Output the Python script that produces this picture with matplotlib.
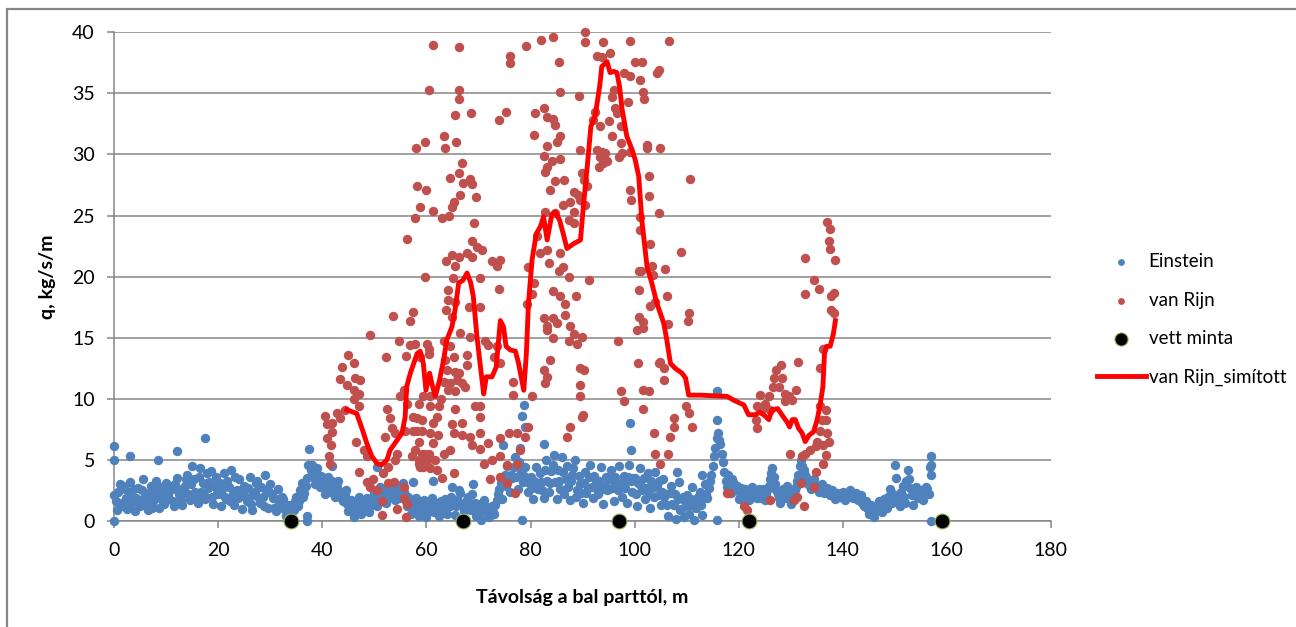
import matplotlib.pyplot as plt
import matplotlib.patches as patches

# Einstein, sampled band (x in m, q in kg/s/m)
ein_x = [
    0.0, 0.5, 1.0, 1.5, 2.0, 2.5, 3.0, 3.5, 4.0, 4.5,
    5.0, 5.5, 6.0, 6.5, 7.0, 7.5, 8.0, 8.5, 9.0, 9.5,
    10.0, 10.5, 11.0, 11.5, 12.0, 12.5, 13.0, 13.5, 14.0, 14.5,
    15.0, 15.5, 16.0, 16.5, 17.0, 17.5, 18.0, 18.5, 19.0, 19.5,
    20.0, 20.5, 21.0, 21.5, 22.0, 22.5, 23.0, 23.5, 24.0, 24.5,
    25.0, 25.5, 26.0, 26.5, 27.0, 27.5, 28.0, 28.5, 29.0, 29.5,
    30.0, 30.5, 31.0, 31.5, 32.0, 32.5, 33.0, 33.5, 34.0, 34.5,
    35.0, 35.5, 36.0, 36.5, 37.0, 37.5, 38.0, 38.5, 39.0, 39.5,
    40.0, 40.5, 41.0, 41.5, 42.0, 42.5, 43.0, 43.5, 44.0, 44.5,
    45.0, 45.5, 46.0, 46.5, 47.0, 47.5, 48.0, 48.5, 49.0, 49.5,
    50.0, 50.5, 51.0, 51.5, 52.0, 52.5, 53.0, 53.5, 54.0, 54.5,
    55.0, 55.5, 56.0, 56.5, 57.0, 57.5, 58.0, 58.5, 59.0, 59.5,
    60.0, 60.5, 61.0, 61.5, 62.0, 62.5, 63.0, 63.5, 64.0, 64.5,
    65.0, 65.5, 66.0, 66.5, 67.0, 67.5, 68.0, 68.5, 69.0, 69.5,
    70.0, 70.5, 71.0, 71.5, 72.0, 72.5, 73.0, 73.5, 74.0, 74.5,
    75.0, 75.5, 76.0, 76.5, 77.0, 77.5, 78.0, 78.5, 79.0, 79.5,
    80.0, 80.5, 81.0, 81.5, 82.0, 82.5, 83.0, 83.5, 84.0, 84.5,
    85.0, 85.5, 86.0, 86.5, 87.0, 87.5, 88.0, 88.5, 89.0, 89.5,
    90.0, 90.5, 91.0, 91.5, 92.0, 92.5, 93.0, 93.5, 94.0, 94.5,
    95.0, 95.5, 96.0, 96.5, 97.0, 97.5, 98.0, 98.5, 99.0, 99.5,
    100.0, 100.5, 101.0, 101.5, 102.0, 102.5, 103.0, 103.5, 104.0, 104.5,
    105.0, 105.5, 106.0, 106.5, 107.0, 107.5, 108.0, 108.5, 109.0, 109.5,
    110.0, 110.5, 111.0, 111.5, 112.0, 112.5, 113.0, 113.5, 114.0, 114.5,
    115.0, 115.5, 116.0, 116.5, 117.0, 117.5, 118.0, 118.5, 119.0, 119.5,
    120.0, 120.5, 121.0, 121.5, 122.0, 122.5, 123.0, 123.5, 124.0, 124.5,
    125.0, 125.5, 126.0, 126.5, 127.0, 127.5, 128.0, 128.5, 129.0, 129.5,
    130.0, 130.5, 131.0, 131.5, 132.0, 132.5, 133.0, 133.5, 134.0, 134.5,
    135.0, 135.5, 136.0, 136.5, 137.0, 137.5, 138.0, 138.5, 139.0, 139.5,
    140.0, 140.5, 141.0, 141.5, 142.0, 142.5, 143.0, 143.5, 144.0, 144.5,
    145.0, 145.5, 146.0, 146.5, 147.0, 147.5, 148.0, 148.5, 149.0, 149.5,
    150.0, 150.5, 151.0, 151.5, 152.0, 152.5, 153.0, 153.5, 154.0, 154.5,
    155.0, 155.5, 156.0, 156.5, 157.0,
]
ein_y = [
    2.1, 0.9, 3.0, 1.5, 2.6, 1.0, 3.2, 1.8, 0.8, 2.7,
    1.2, 3.4, 2.0, 0.9, 2.9, 1.6, 3.3, 1.1, 2.4, 1.4,
    3.1, 1.8, 2.6, 1.2, 3.5, 2.2, 1.3, 2.9, 3.8, 1.7,
    4.5, 2.4, 1.5, 4.3, 3.1, 1.8, 2.7, 4.1, 1.4, 3.6,
    2.2, 1.2, 3.9, 1.8, 2.8, 4.2, 1.3, 2.5, 3.4, 1.0,
    2.9, 1.6, 3.6, 0.9, 2.4, 3.3, 1.5, 2.0, 3.8, 1.1,
    3.0, 1.9, 0.8, 2.6, 1.2, 1.8, 0.4, 1.3, 0.2, 0.9,
    2.0, 1.6, 3.1, 2.3, 3.5, 5.9, 4.6, 3.0, 4.3, 2.8,
    3.4, 2.2, 3.6, 2.6, 3.0, 2.0, 3.3, 2.4, 1.6, 2.5,
    0.8, 1.7, 0.3, 1.2, 2.0, 0.6, 1.5, 1.9, 0.7, 1.3,
    2.3, 1.2, 2.8, 1.6, 2.4, 1.9, 2.6, 3.0, 1.7, 2.9,
    2.2, 3.1, 1.6, 2.0, 0.6, 1.4, 1.9, 0.4, 1.1, 1.7,
    0.3, 1.3, 1.9, 0.7, 1.5, 0.4, 1.0, 1.8, 0.6, 1.2,
    2.8, 0.5, 1.6, 2.3, 0.2, 1.1, 2.0, 0.9, 3.0, 0.4,
    1.4, 0.1, 1.7, 0.8, 0.3, 1.2, 0.6, 1.7, 2.6, 1.8,
    3.8, 4.5, 2.4, 3.5, 5.2, 2.6, 6.0, 3.2, 4.4, 2.4,
    3.6, 1.8, 4.4, 2.6, 3.2, 1.9, 5.0, 2.4, 4.1, 5.4,
    1.8, 3.3, 5.2, 2.2, 4.5, 1.7, 3.8, 5.0, 2.5, 3.0,
    1.5, 4.0, 2.7, 4.6, 1.9, 3.3, 2.2, 4.4, 1.4, 3.6,
    2.6, 4.2, 1.6, 3.1, 4.5, 2.0, 3.7, 1.5, 4.6, 2.4,
    3.5, 1.2, 4.3, 2.5, 1.8, 3.9, 1.1, 2.8, 4.0, 2.1,
    1.3, 3.4, 2.2, 0.4, 2.9, 1.3, 0.2, 3.2, 1.0, 0.3,
    2.1, 0.6, 2.8, 0.1, 1.5, 2.4, 0.5, 3.0, 1.9, 3.3,
    4.5, 6.0, 7.2, 6.3, 4.8, 3.3, 3.8, 2.3, 3.2, 2.5,
    1.8, 2.7, 2.0, 2.4, 1.7, 2.8, 2.1, 1.9, 2.6, 2.2,
    1.7, 2.5, 3.4, 4.3, 3.0, 2.2, 1.5, 2.6, 1.9, 2.4,
    1.4, 2.0, 2.8, 3.8, 5.0, 4.2, 3.6, 3.2, 2.6, 3.4,
    2.9, 2.4, 3.0, 2.3, 2.7, 2.1, 2.5, 1.8, 2.3, 2.0,
    2.4, 1.7, 2.2, 2.5, 1.9, 2.3, 1.7, 2.1, 1.2, 1.6,
    0.6, 1.3, 0.3, 1.0, 1.6, 0.7, 1.8, 1.1, 2.6, 1.5,
    4.6, 2.0, 1.2, 2.9, 1.5, 4.2, 2.7, 1.3, 2.8, 1.9,
    2.5, 1.7, 2.8, 2.2, 5.3,
]
# Einstein, in-between stations
ein2_x = [
    0.25, 0.75, 1.25, 1.75, 2.25, 2.75, 3.25, 3.75, 4.25, 4.75,
    5.25, 5.75, 6.25, 6.75, 7.25, 7.75, 8.25, 8.75, 9.25, 9.75,
    10.25, 10.75, 11.25, 11.75, 12.25, 12.75, 13.25, 13.75, 14.25, 14.75,
    15.25, 15.75, 16.25, 16.75, 17.25, 17.75, 18.25, 18.75, 19.25, 19.75,
    20.25, 20.75, 21.25, 21.75, 22.25, 22.75, 23.25, 23.75, 24.25, 24.75,
    25.25, 25.75, 26.25, 26.75, 27.25, 27.75, 28.25, 28.75, 29.25, 29.75,
    30.25, 30.75, 31.25, 31.75, 32.25, 32.75, 33.25, 33.75, 34.25, 34.75,
    35.25, 35.75, 36.25, 36.75, 37.25, 37.75, 38.25, 38.75, 39.25, 39.75,
    40.25, 40.75, 41.25, 41.75, 42.25, 42.75, 43.25, 43.75, 44.25, 44.75,
    45.25, 45.75, 46.25, 46.75, 47.25, 47.75, 48.25, 48.75, 49.25, 49.75,
    50.25, 50.75, 51.25, 51.75, 52.25, 52.75, 53.25, 53.75, 54.25, 54.75,
    55.25, 55.75, 56.25, 56.75, 57.25, 57.75, 58.25, 58.75, 59.25, 59.75,
    60.25, 60.75, 61.25, 61.75, 62.25, 62.75, 63.25, 63.75, 64.25, 64.75,
    65.25, 65.75, 66.25, 66.75, 67.25, 67.75, 68.25, 68.75, 69.25, 69.75,
    70.25, 70.75, 71.25, 71.75, 72.25, 72.75, 73.25, 73.75, 74.25, 74.75,
    75.25, 75.75, 76.25, 76.75, 77.25, 77.75, 78.25, 78.75, 79.25, 79.75,
    80.25, 80.75, 81.25, 81.75, 82.25, 82.75, 83.25, 83.75, 84.25, 84.75,
    85.25, 85.75, 86.25, 86.75, 87.25, 87.75, 88.25, 88.75, 89.25, 89.75,
    90.25, 90.75, 91.25, 91.75, 92.25, 92.75, 93.25, 93.75, 94.25, 94.75,
    95.25, 95.75, 96.25, 96.75, 97.25, 97.75, 98.25, 98.75, 99.25, 99.75,
    100.25, 100.75, 101.25, 101.75, 102.25, 102.75, 103.25, 103.75, 104.25, 104.75,
    105.25, 105.75, 106.25, 106.75, 107.25, 107.75, 108.25, 108.75, 109.25, 109.75,
    110.25, 110.75, 111.25, 111.75, 112.25, 112.75, 113.25, 113.75, 114.25, 114.75,
    115.25, 115.75, 116.25, 116.75, 117.25, 117.75, 118.25, 118.75, 119.25, 119.75,
    120.25, 120.75, 121.25, 121.75, 122.25, 122.75, 123.25, 123.75, 124.25, 124.75,
    125.25, 125.75, 126.25, 126.75, 127.25, 127.75, 128.25, 128.75, 129.25, 129.75,
    130.25, 130.75, 131.25, 131.75, 132.25, 132.75, 133.25, 133.75, 134.25, 134.75,
    135.25, 135.75, 136.25, 136.75, 137.25, 137.75, 138.25, 138.75, 139.25, 139.75,
    140.25, 140.75, 141.25, 141.75, 142.25, 142.75, 143.25, 143.75, 144.25, 144.75,
    145.25, 145.75, 146.25, 146.75, 147.25, 147.75, 148.25, 148.75, 149.25, 149.75,
    150.25, 150.75, 151.25, 151.75, 152.25, 152.75, 153.25, 153.75, 154.25, 154.75,
    155.25, 155.75, 156.25, 156.75,
]
ein2_y = [
    1.6, 2.4, 1.2, 2.9, 1.9, 2.2, 1.4, 2.6, 1.9, 1.5,
    2.5, 1.9, 1.4, 2.3, 1.1, 2.5, 2.0, 2.8, 1.7, 2.9,
    2.2, 2.9, 1.6, 3.0, 2.6, 1.7, 2.3, 3.4, 2.2, 3.0,
    3.4, 1.9, 3.6, 2.4, 2.1, 3.9, 3.2, 2.0, 2.9, 2.3,
    3.1, 2.6, 2.0, 3.3, 1.6, 2.2, 3.6, 1.9, 2.2, 2.6,
    2.0, 2.7, 1.4, 2.1, 3.1, 1.9, 2.8, 1.2, 2.5, 2.4,
    2.2, 1.1, 1.8, 1.5, 2.0, 0.9, 1.0, 0.6, 1.3, 1.6,
    1.2, 2.5, 2.0, 2.9, 4.6, 4.2, 3.6, 4.0, 3.4, 3.7,
    2.7, 3.1, 2.4, 3.3, 2.3, 2.8, 2.1, 1.8, 2.2, 1.4,
    1.3, 0.9, 1.5, 0.8, 1.1, 1.6, 0.9, 1.2, 1.6, 1.9,
    1.7, 2.2, 1.9, 2.5, 1.5, 2.3, 2.1, 2.4, 2.4, 1.9,
    2.7, 2.4, 1.2, 1.4, 1.2, 0.9, 1.5, 1.0, 0.6, 1.0,
    1.0, 0.8, 1.4, 1.2, 0.9, 1.6, 1.4, 1.2, 1.5, 2.0,
    1.7, 1.2, 2.5, 1.3, 0.8, 1.7, 1.4, 2.2, 1.5, 1.0,
    0.7, 1.0, 1.2, 0.4, 1.0, 0.7, 1.3, 2.2, 3.1, 3.0,
    2.9, 3.4, 3.8, 4.4, 3.6, 4.8, 4.0, 3.7, 3.3, 3.1,
    2.7, 3.3, 3.1, 3.9, 2.5, 4.2, 3.3, 3.1, 4.6, 3.2,
    4.2, 2.6, 4.0, 3.4, 2.8, 3.3, 4.3, 2.0, 3.7, 2.3,
    3.1, 2.3, 3.6, 2.8, 3.7, 2.6, 3.3, 2.6, 2.9, 2.5,
    3.4, 2.7, 3.6, 2.5, 3.0, 3.2, 2.7, 3.6, 3.3, 3.5,
    2.2, 3.1, 2.9, 3.5, 2.7, 2.3, 3.3, 2.0, 2.9, 3.3,
    2.4, 2.0, 1.3, 2.3, 1.4, 2.2, 1.8, 0.9, 2.0, 1.6,
    1.2, 1.8, 1.3, 1.1, 2.0, 1.3, 1.9, 2.2, 2.7, 3.8,
    5.3, 6.8, 6.6, 5.5, 4.0, 2.8, 2.9, 3.4, 2.6, 2.9,
    2.3, 2.1, 2.6, 1.9, 2.3, 2.0, 2.4, 2.5, 1.9, 2.6,
    2.2, 2.9, 3.9, 3.6, 2.5, 1.9, 2.3, 2.0, 2.9, 1.9,
    2.3, 2.5, 3.3, 4.5, 4.5, 3.8, 3.0, 2.9, 3.1, 2.8,
    2.6, 2.8, 2.5, 2.5, 2.4, 2.3, 2.1, 2.2, 2.0, 2.2,
    2.0, 2.0, 2.4, 2.1, 2.2, 1.9, 2.0, 1.5, 1.4, 1.1,
    1.0, 0.9, 0.8, 1.4, 1.2, 1.3, 1.4, 2.0, 1.9, 2.2,
    3.5, 1.6, 2.4, 2.0, 3.3, 3.4, 2.1, 2.1, 2.3, 2.4,
    2.0, 2.3, 2.6, 4.4,
]
# Einstein, isolated points off the band
ein_out_x = [0.0, 0.0, 0.0, 3.0, 8.4, 12.1, 17.5, 37.1, 37.1, 41.9,
             50.5, 57.4, 61.3, 74.8, 78.3, 78.7, 79.0, 78.3, 82.6, 99.2,
             99.4, 108.1, 112.9, 115.8, 115.8, 115.8, 157.0, 157.0, 157.0]
ein_out_y = [6.1, 5.0, 0.0, 5.3, 5.0, 5.7, 6.8, 0.4, 0.0, 4.5,
             4.4, 3.2, 3.3, 6.2, 8.6, 9.5, 7.7, 0.1, 6.3, 8.0,
             5.8, 4.0, 3.8, 10.6, 8.3, 0.1, 4.6, 3.8, 0.0]

# van Rijn points
rijn_x = [
    60.4, 58.0, 59.8, 58.2, 59.9, 58.7, 57.7, 56.3, 59.8, 53.5,
    57.5, 56.9, 49.2, 54.8, 56.9, 57.8, 60.1, 52.3, 56.1, 45.0,
    46.0, 43.7, 43.4, 46.3, 47.3, 44.7, 46.0, 47.0, 46.0, 47.0,
    44.4, 42.8, 43.4, 40.5, 40.8, 41.8, 40.8, 41.8, 41.7, 41.2,
    41.4, 46.5, 47.9, 48.5, 47.1, 48.5, 49.8, 49.2, 50.5, 51.4,
    51.4, 51.7, 52.7, 52.7, 53.7, 54.3, 56.1, 55.6, 52.1, 52.4,
    53.0, 53.3, 54.0, 54.3, 54.0, 54.9, 55.6, 56.2, 57.5, 58.2,
    58.5, 57.2, 58.5, 59.4, 59.8, 57.5, 59.1,
    61.3, 66.2, 66.3, 66.3, 65.5, 68.6, 63.3, 63.6, 65.7, 66.8,
    64.6, 66.2, 67.0, 68.4, 68.7, 66.5, 69.6, 65.2, 64.9, 61.2,
    63.0, 64.4, 69.2, 68.7, 69.7, 70.7, 67.8, 68.7, 64.9, 66.2,
    63.8, 65.5, 72.6, 74.2, 73.5, 65.1, 70.2, 64.2, 74.0, 64.2,
    65.5, 70.3, 63.8, 68.1, 64.9, 66.5, 68.4, 60.4, 63.3, 64.6,
    71.3, 71.9, 73.5, 58.8, 60.4, 63.6, 65.2, 67.8, 72.9, 74.2,
    63.9, 65.5, 66.2, 63.3, 64.6, 65.8, 66.8, 64.2, 65.5, 67.4,
    67.8, 76.7, 76.7, 62.8, 62.5, 65.5, 69.4, 70.3, 80.3, 70.2,
    62.0, 58.2, 55.9, 59.1, 64.9, 66.8, 65.2, 66.8, 68.4, 70.3,
    62.3, 61.3, 75.8, 77.4, 74.2, 79.6, 79.0, 78.0, 68.7, 70.3,
    71.9, 57.8, 59.1, 60.4, 63.3, 64.6, 58.5, 60.1, 61.7, 58.8,
    60.7, 62.0, 71.0, 72.6, 74.2, 75.5, 77.4, 65.2, 63.0, 72.3,
    74.2, 75.5, 77.1, 55.6, 56.2, 58.5, 59.4, 60.7, 60.7, 61.3,
    60.7,
    79.2, 82.1, 84.3, 90.5, 90.4, 94.0, 99.2, 106.7, 76.0, 76.1,
    85.4, 92.8, 93.7, 95.3, 100.1, 101.5, 104.3, 104.6, 97.9, 99.2,
    101.0, 85.6, 89.4, 82.5, 80.9, 74.0, 75.3, 83.2, 84.4, 84.8,
    80.7, 85.7, 85.1, 83.2, 89.6, 93.4, 95.0, 95.7, 97.3, 92.4,
    92.1, 96.0, 95.7, 96.3, 96.6, 98.7, 101.7, 101.9, 102.3, 102.3,
    104.8, 92.8, 93.7, 94.4, 93.4, 94.7, 94.0, 93.1, 97.3, 97.6,
    99.2, 97.1, 82.5, 84.1, 83.2, 82.8, 85.7, 84.8, 86.4, 89.9,
    90.2, 90.9, 99.2, 99.4, 102.7, 110.7, 83.8, 88.3, 87.6, 89.2,
    89.6, 90.5, 102.7, 86.3, 88.3, 82.8, 84.8, 104.6, 101.1, 87.4,
    88.3, 101.1, 81.2, 83.2, 81.9, 83.5, 85.7, 86.3, 85.4, 87.3,
    103.0, 109.0, 103.3, 103.6, 105.9, 100.8, 101.2, 91.2, 79.6, 80.6,
    80.3, 79.3, 84.4, 85.7, 86.7, 88.8, 100.8, 106.2, 102.9, 104.0,
    110.4, 110.3, 100.8, 101.6, 100.5, 101.6, 82.5, 84.4, 85.1, 83.2,
    86.7, 87.6, 106.5, 88.3, 87.4, 89.0, 89.9, 83.2, 84.4, 96.9,
    82.5, 83.2, 82.8, 83.8, 89.6, 90.2, 89.6, 89.6, 90.1, 89.9,
    100.6, 97.3, 97.9, 101.7, 102.7, 104.9, 104.6, 105.6, 105.6, 101.7,
    103.7, 106.9, 107.5, 107.5, 109.8, 110.4, 111.0, 104.0, 106.5, 104.8,
    117.8, 87.6, 87.0,
    136.9, 137.6, 137.3, 137.6, 138.5, 132.8, 134.4, 135.4, 132.8, 138.3,
    137.8, 137.8, 138.3, 136.3, 131.4, 135.7, 128.2, 127.1, 126.8, 128.3,
    126.6, 127.7, 131.1, 129.0, 129.6, 130.3, 129.0, 124.2, 125.8, 125.1,
    123.5, 124.5, 126.1, 135.7, 136.7, 123.4, 123.6, 136.0, 136.7, 135.7,
    137.0, 137.3, 136.3, 135.1, 134.8, 133.8, 132.8, 132.2, 136.7, 136.3,
    129.9, 134.9, 131.9, 131.2, 130.6, 134.4, 132.5, 126.1, 121.0, 121.6,
    118.1,
]
rijn_y = [
    35.3, 30.5, 31.0, 27.4, 27.1, 25.7, 24.8, 23.1, 20.0, 16.8,
    17.1, 16.4, 15.2, 14.7, 14.4, 14.5, 14.5, 13.4, 13.5, 13.6,
    12.9, 12.6, 11.6, 11.7, 11.5, 11.1, 10.7, 10.4, 10.0, 9.4,
    9.1, 8.8, 8.4, 8.6, 7.9, 8.0, 6.8, 7.3, 6.2, 5.3,
    4.7, 6.5, 5.8, 5.3, 4.0, 3.2, 3.4, 2.8, 2.5, 1.6,
    0.5, 3.9, 4.4, 3.1, 3.2, 1.0, 0.35, 1.9, 6.9, 9.2,
    8.4, 7.6, 7.2, 5.5, 5.0, 10.2, 10.7, 9.6, 8.5, 7.4,
    6.5, 5.3, 4.7, 4.4, 5.5, 7.4, 8.3,
    39.0, 38.8, 35.3, 34.5, 33.2, 33.4, 31.5, 30.5, 31.0, 29.3,
    28.1, 28.5, 27.7, 28.0, 27.6, 26.7, 26.5, 26.1, 25.7, 25.4,
    24.8, 25.0, 24.4, 22.9, 22.4, 22.2, 21.9, 21.6, 21.8, 21.6,
    21.3, 20.9, 21.3, 21.4, 20.9, 19.9, 19.9, 18.9, 19.0, 18.1,
    17.9, 17.5, 17.3, 17.5, 16.7, 15.4, 15.1, 14.1, 14.7, 14.3,
    14.7, 14.4, 14.3, 13.4, 13.7, 13.2, 13.4, 13.6, 13.4, 12.9,
    12.4, 12.2, 12.1, 11.4, 11.3, 11.5, 11.3, 10.7, 10.6, 11.0,
    12.8, 11.4, 10.3, 10.0, 9.4, 9.2, 9.4, 9.4, 10.2, 8.5,
    8.5, 8.4, 7.4, 7.4, 7.9, 8.0, 7.2, 7.0, 6.9, 7.2,
    7.0, 6.4, 7.2, 7.2, 6.8, 7.7, 6.9, 5.8, 6.2, 5.9,
    6.4, 5.8, 5.5, 5.5, 5.5, 5.8, 5.0, 4.9, 5.0, 4.4,
    4.3, 4.2, 4.7, 5.0, 5.3, 4.6, 4.7, 3.9, 3.5, 3.4,
    3.6, 3.1, 2.3, 2.8, 1.4, 9.6, 10.2, 10.2, 9.4, 8.0,
    7.2,
    38.9, 39.4, 39.6, 40.0, 39.2, 39.2, 39.3, 39.3, 38.1, 37.5,
    37.6, 38.1, 38.0, 38.3, 37.6, 37.6, 36.7, 36.9, 36.7, 36.4,
    36.1, 35.1, 34.8, 33.8, 33.4, 32.8, 33.5, 33.1, 32.9, 32.4,
    31.6, 31.5, 31.0, 30.7, 30.4, 32.3, 32.7, 31.5, 32.3, 33.5,
    32.8, 35.3, 34.7, 33.8, 33.4, 34.3, 35.1, 34.5, 30.8, 30.5,
    30.5, 30.4, 30.2, 30.1, 29.8, 29.5, 29.3, 29.0, 30.9, 30.1,
    30.2, 29.8, 29.9, 29.5, 29.0, 28.6, 29.6, 27.8, 27.9, 28.5,
    27.9, 27.4, 27.1, 26.3, 28.2, 28.0, 27.1, 26.9, 26.1, 26.7,
    26.3, 25.9, 26.6, 25.9, 25.3, 25.3, 25.2, 25.2, 24.9, 24.6,
    24.4, 23.8, 23.3, 22.2, 21.9, 21.1, 21.9, 20.8, 20.5, 20.0,
    22.7, 22.0, 20.9, 20.1, 20.6, 20.5, 20.5, 19.7, 20.8, 19.5,
    18.6, 17.8, 18.8, 18.4, 17.8, 18.4, 18.9, 18.4, 17.6, 17.9,
    17.0, 16.4, 16.7, 16.3, 15.6, 15.8, 16.6, 16.6, 16.2, 16.0,
    16.9, 16.0, 16.1, 15.3, 14.7, 14.5, 15.1, 15.6, 15.0, 14.7,
    12.4, 11.8, 11.3, 13.2, 12.5, 12.4, 11.1, 10.2, 8.7, 8.5,
    12.9, 10.6, 9.8, 10.7, 10.6, 13.0, 12.9, 12.5, 11.5, 9.2,
    7.2, 6.9, 8.4, 7.7, 9.4, 8.8, 7.7, 5.5, 5.5, 4.7,
    2.3, 7.7, 6.9,
    24.5, 23.9, 22.9, 22.3, 21.4, 21.5, 19.7, 19.0, 18.6, 18.7,
    18.4, 17.3, 17.0, 14.1, 13.0, 12.5, 12.8, 12.4, 11.7, 11.7,
    11.0, 11.0, 10.7, 10.4, 10.2, 9.9, 9.8, 10.3, 10.2, 9.6,
    9.4, 9.2, 9.1, 9.4, 9.1, 8.3, 7.6, 8.3, 8.3, 7.4,
    7.2, 6.5, 6.2, 6.5, 6.1, 5.8, 5.5, 5.3, 5.4, 4.7,
    5.5, 4.0, 3.1, 2.0, 1.7, 2.8, 1.2, 1.7, 1.2, 0.9,
    2.3,
]

# sampling points ("vett minta")
minta_x = [34.0, 67.0, 97.0, 122.0, 159.0]
minta_y = [0, 0, 0, 0, 0]

# smoothed van Rijn
sim_x = [44.7, 46.6, 47.9, 48.5, 49.5, 50.5, 51.4, 52.4, 53.0, 54.0,
         55.3, 55.9, 56.2, 56.9, 58.2, 58.8, 59.4, 59.9, 60.6, 61.0,
         61.7, 62.5, 63.3, 63.9, 64.9, 65.5, 66.2, 67.0, 67.8, 68.5,
         69.0, 69.7, 70.3, 71.0, 71.5, 72.6, 73.4, 74.2, 74.8, 75.3,
         76.1, 77.1, 77.7, 78.7, 79.2, 79.6, 80.3, 81.1, 81.9, 82.5,
         83.2, 84.1, 84.8, 85.6, 86.3, 87.0, 88.3, 89.6, 90.1, 90.9,
         91.6, 92.4, 93.3, 93.7, 94.7, 95.3, 96.0, 96.6, 97.1, 97.6,
         98.5, 99.5, 100.1, 100.8, 101.4, 102.4, 103.3, 104.3, 105.6, 106.2,
         106.9, 107.8, 109.1, 109.8, 110.4, 112.6, 117.8, 119.0, 121.0, 121.9,
         123.2, 124.0, 124.8, 125.8, 126.4, 127.5, 128.3, 129.3, 129.8, 130.3,
         130.9, 131.5, 132.2, 132.8, 133.5, 134.4, 135.1, 135.7, 136.2, 136.5,
         136.9, 137.6, 138.2, 138.6]
sim_y = [9.1, 8.8, 7.2, 6.4, 5.3, 4.7, 4.6, 5.0, 5.8, 6.4,
         7.2, 8.5, 11.0, 12.1, 13.7, 13.9, 12.9, 10.7, 12.1, 11.3,
         10.2, 11.5, 13.2, 14.8, 15.9, 17.3, 19.5, 19.7, 20.3, 19.5,
         18.4, 15.1, 12.9, 10.4, 11.8, 11.8, 12.6, 16.4, 15.9, 14.3,
         14.0, 13.9, 12.9, 10.7, 13.7, 17.8, 21.4, 23.5, 24.1, 24.9,
         23.0, 25.1, 25.3, 24.6, 23.5, 22.3, 22.7, 23.0, 25.5, 29.0,
         32.3, 33.1, 35.6, 37.2, 37.6, 36.7, 36.8, 36.7, 35.6, 33.7,
         31.5, 30.4, 29.6, 28.2, 24.6, 20.8, 19.5, 17.8, 16.2, 14.8,
         12.9, 12.5, 12.1, 11.7, 10.3, 10.3, 10.2, 9.9, 9.5, 8.7,
         8.7, 8.9, 8.7, 8.3, 9.1, 9.2, 8.7, 8.1, 7.7, 8.3,
         8.3, 7.6, 7.2, 6.5, 7.0, 7.3, 8.3, 9.6, 11.0, 13.7,
         14.3, 14.3, 15.3, 16.4]

plt.rcParams['font.family'] = ['Lato', 'DejaVu Sans']

fig = plt.figure(figsize=(12.96, 6.27), dpi=100)
ax = fig.add_axes([114.3 / 1296, 106 / 627, 936.5 / 1296, 488.7 / 627])

grey = '#868686'
ax.scatter(ein_x + ein2_x + ein_out_x, ein_y + ein2_y + ein_out_y, s=46,
           color='#4F81BD', linewidths=0, label='Einstein', zorder=3,
           clip_on=False)
ax.scatter(rijn_x, rijn_y, s=46, color='#C0504D', linewidths=0,
           label='van Rijn', zorder=4, clip_on=False)
ax.scatter(minta_x, minta_y, s=115, color='black', edgecolors='#9BBB59',
           linewidths=0.8, label='vett minta', zorder=5, clip_on=False)
ax.plot(sim_x, sim_y, color='#FF0000', lw=3.5, label='van Rijn_simított',
        zorder=6)

ax.set_xlim(0, 180)
ax.set_ylim(0, 40)
ax.set_xticks(range(0, 181, 20))
ax.set_yticks(range(0, 41, 5))
ax.grid(axis='y', color=grey, lw=1.1)
ax.set_axisbelow(True)
for side in ['top', 'right']:
    ax.spines[side].set_visible(False)
for side in ['left', 'bottom']:
    ax.spines[side].set_color(grey)
    ax.spines[side].set_linewidth(1.1)
ax.tick_params(axis='both', colors=grey, labelcolor='black', labelsize=14,
               length=5, width=1.1, direction='out')
ax.tick_params(axis='x', pad=10)
ax.tick_params(axis='y', pad=9)

fig.text(582 / 1296, 1 - 597 / 627, 'Távolság a bal parttól, m', ha='center',
         va='center', fontsize=14, fontweight='bold')
fig.text(48 / 1296, 1 - 277 / 627, 'q, kg/s/m', ha='center', va='center',
         rotation=90, fontsize=14, fontweight='bold')

leg = ax.legend(loc='upper left', bbox_to_anchor=(1097 / 1296, 1 - 253 / 627),
                bbox_transform=fig.transFigure, frameon=False, fontsize=13.5,
                handlelength=2.6, handletextpad=0.15, labelspacing=1.15,
                borderaxespad=0, borderpad=0)
leg.legend_handles[0].set_sizes([24])
leg.legend_handles[1].set_sizes([24])
leg.legend_handles[2].set_sizes([90])

fig.patches.append(patches.Rectangle((7 / 1296, -0.1), 1.2, 1 - 9 / 627 + 0.1,
                                     transform=fig.transFigure, fill=False,
                                     edgecolor=grey, lw=1.6))

fig.savefig('out.png', dpi=100)
